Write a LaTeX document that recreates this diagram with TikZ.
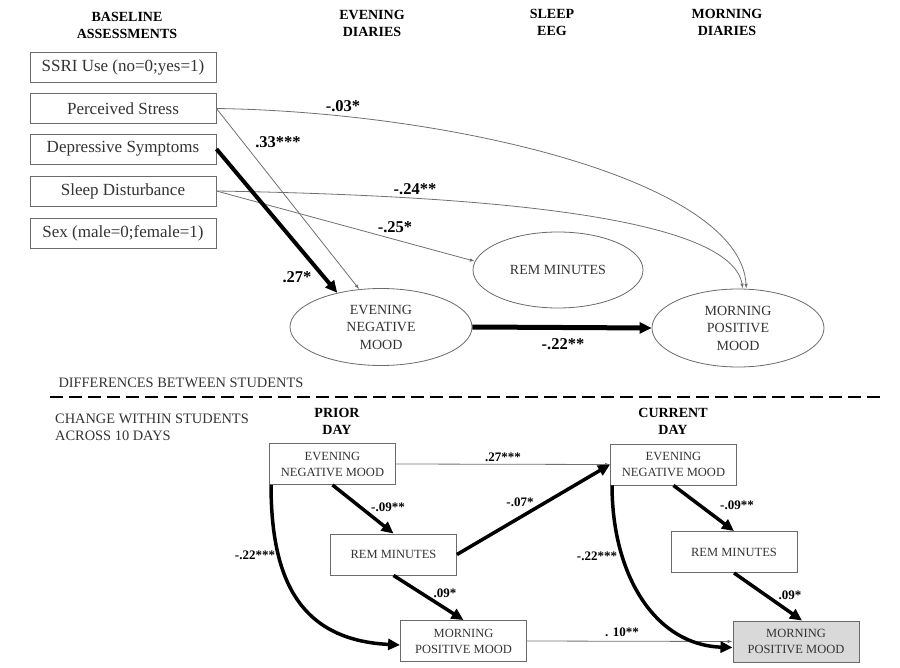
\documentclass[tikz,border=0pt]{standalone}
\usepackage{fontspec}
\setmainfont{Liberation Serif}
\usetikzlibrary{arrows.meta,shapes.geometric}
\definecolor{boxgray}{HTML}{6A6A6A}
\definecolor{txtgray}{HTML}{333333}
\definecolor{linegray}{HTML}{707070}
\definecolor{fillgray}{HTML}{D9D9D9}
\tikzset{
  basebox/.style={draw=boxgray, line width=0.9pt, minimum width=186pt, minimum height=30pt, inner sep=0pt, font=\fontsize{17}{20}\selectfont, text=txtgray},
  ell/.style={ellipse, draw=boxgray, line width=0.8pt, inner sep=0pt, align=center, font=\fontsize{14}{17.5}\selectfont, text=txtgray},
  dbox/.style={draw=boxgray, line width=0.9pt, minimum width=126pt, minimum height=41pt, inner sep=0pt, align=center, font=\fontsize{12.5}{16}\selectfont, text=txtgray},
  hdr/.style={font=\bfseries\fontsize{14}{17}\selectfont, align=center, text=black},
  sidetxt/.style={font=\fontsize{14.4}{17}\selectfont, text=txtgray, align=left},
  toplab/.style={font=\bfseries\fontsize{16.5}{18}\selectfont, text=black},
  botlab/.style={font=\bfseries\fontsize{13}{15}\selectfont, text=black},
  thinarrow/.style={draw=linegray, line width=0.8pt, -{Latex[length=5pt,width=3.5pt]}},
  boldarrow/.style={draw=black, line width=3.5pt, -{Triangle[length=12pt,width=11pt]}},
}
\begin{document}
\begin{tikzpicture}[x=1pt,y=-1pt]
\path[use as bounding box] (0,0) rectangle (900,668);

% headers
\node[hdr] (h1) at (127,25) {BASELINE\\ASSESSMENTS};
\node[hdr] (h2) at (372,23) {EVENING\\DIARIES};
\node[hdr] (h3) at (552,22) {SLEEP\\EEG};
\node[hdr] (h4) at (727,22) {MORNING\\DIARIES};

% baseline boxes
\node[basebox] (ssri) at (123,67) {SSRI Use (no=0;yes=1)};
\node[basebox] (ps) at (123,108.5) {Perceived Stress};
\node[basebox] (ds) at (123,149) {Depressive Symptoms};
\node[basebox] (sd) at (123,191) {Sleep Disturbance};
\node[basebox] (sex) at (123,233) {Sex (male=0;female=1)};

% ellipses
\node[ell, minimum width=182pt, minimum height=77pt] (eve) at (381,327) {EVENING\\NEGATIVE\\MOOD};
\node[ell, minimum width=170pt, minimum height=76pt] (rem) at (558,270) {REM MINUTES};
\node[ell, minimum width=172pt, minimum height=78pt] (mpm) at (738,328) {MORNING\\POSITIVE\\MOOD};

% top connectors
\draw[thinarrow] (ps.east) .. controls (450,112) and (740,180) .. (mpm.78);
\draw[thinarrow] (ps.east) -- (eve.120);
\draw[thinarrow] (sd.east) .. controls (450,195) and (730,212) .. (mpm.83);
\draw[thinarrow] (sd.east) -- (rem.174);
\draw[boldarrow, line width=4pt] (ds.east) -- (eve.142);
\draw[boldarrow, line width=5pt] (eve.east) -- (mpm.west);

% top labels
\node[toplab] (l1) at (343,106) {-.03*};
\node[toplab] (l2) at (278,142) {.33***};
\node[toplab] (l3) at (415,189) {-.24**};
\node[toplab] (l4) at (395,227) {-.25*};
\node[toplab] (l5) at (297,277) {.27*};
\node[toplab] (l6) at (563,344) {-.22**};

% divider
\node[sidetxt, anchor=west] (diff) at (55,383) {DIFFERENCES BETWEEN STUDENTS};
\coordinate (dl) at (50,397);
\coordinate (dr) at (882,397);
\draw[line width=1.5pt, dash pattern=on 13pt off 6pt] (dl) -- (dr);
\node[sidetxt, anchor=north west, inner sep=0pt] (chg) at (55,414) {CHANGE WITHIN STUDENTS\\ACROSS 10 DAYS};

% bottom headers
\node[hdr] (h5) at (337,421) {PRIOR\\DAY};
\node[hdr] (h6) at (673,421) {CURRENT\\DAY};

% bottom boxes
\node[dbox] (peve) at (332.5,464) {EVENING\\NEGATIVE MOOD};
\node[dbox] (prem) at (393.5,554.5) {REM MINUTES};
\node[dbox] (pmpm) at (463.5,641) {MORNING\\POSITIVE MOOD};
\node[dbox] (ceve) at (673.5,464.5) {EVENING\\NEGATIVE MOOD};
\node[dbox] (crem) at (734,552) {REM MINUTES};
\node[dbox, fill=fillgray] (cmpm) at (796,641.5) {MORNING\\POSITIVE MOOD};

% bottom connectors
\draw[thinarrow] (peve.east) -- (ceve.west);
\draw[thinarrow] (pmpm.east) -- (cmpm.west);
\draw[boldarrow] (peve.south) -- (prem.north);
\draw[boldarrow] (prem.south) -- (pmpm.north);
\draw[boldarrow] ([xshift=2pt]peve.south west) .. controls (271,580) and (300,640) .. ([yshift=-4pt]pmpm.west);
\draw[boldarrow] (prem.east) -- (ceve.west);
\draw[boldarrow] (ceve.south) -- (crem.north);
\draw[boldarrow] (crem.south) -- ([xshift=6pt]cmpm.north);
\draw[boldarrow] ([xshift=2pt]ceve.south west) .. controls (612,575) and (655,645) .. ([yshift=-6pt]cmpm.west);

% bottom labels
\node[botlab] (b1) at (503,457) {.27***};
\node[botlab] (b2) at (520,502) {-.07*};
\node[botlab] (b3) at (388,507) {-.09**};
\node[botlab] (b4) at (255,555) {-.22***};
\node[botlab] (b5) at (445,593) {.09*};
\node[botlab] (b6) at (622,632) {. 10**};
\node[botlab] (b7) at (737,505) {-.09**};
\node[botlab] (b8) at (597,556) {-.22***};
\node[botlab] (b9) at (790,595) {.09*};
\end{tikzpicture}
\end{document}
